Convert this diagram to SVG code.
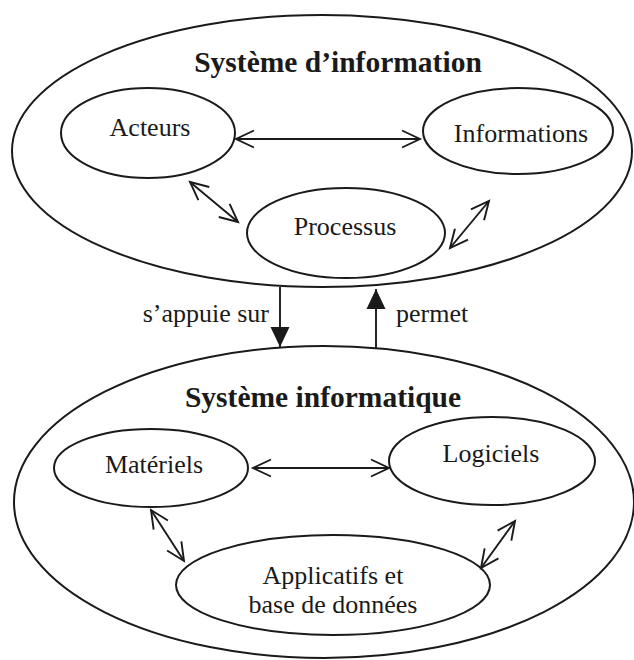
<svg xmlns="http://www.w3.org/2000/svg" width="634" height="660" viewBox="0 0 634 660">
<style>
.el{fill:none;stroke:#1a1a1a;stroke-width:2}
.ln{fill:none;stroke:#1a1a1a;stroke-width:1.9}
.t{font-family:"Liberation Serif","Times New Roman",serif;font-size:26px;fill:#1a1a1a;text-anchor:middle}
.h{font-family:"Liberation Serif","Times New Roman",serif;font-size:29.5px;font-weight:bold;fill:#1a1a1a;text-anchor:middle}
.lbl{font-family:"Liberation Serif","Times New Roman",serif;font-size:26px;fill:#1a1a1a}
</style>
<defs>
<marker id="open" markerUnits="userSpaceOnUse" markerWidth="24" markerHeight="24" viewBox="0 0 24 24" refX="21" refY="12" orient="auto-start-reverse">
<path d="M3,3.5 L21,12 L3,20.5" fill="none" stroke="#1a1a1a" stroke-width="1.9"/>
</marker>
<marker id="solid" markerUnits="userSpaceOnUse" markerWidth="22" markerHeight="22" viewBox="0 0 22 22" refX="20" refY="11" orient="auto">
<path d="M0,1.5 L20,11 L0,20.5 Z" fill="#1a1a1a"/>
</marker>
</defs>
<rect width="634" height="660" fill="#ffffff"/>
<g id="systeme-information">
<ellipse class="el" cx="322" cy="151" rx="310" ry="136"/>
<text class="h" x="338" y="72">Système d’information</text>
</g>
<g id="acteurs">
<ellipse class="el" cx="148" cy="133" rx="87" ry="45"/>
<text class="t" x="150" y="136">Acteurs</text>
</g>
<g id="informations">
<ellipse class="el" cx="518" cy="131" rx="95" ry="43"/>
<text class="t" x="521" y="142">Informations</text>
</g>
<g id="processus">
<ellipse class="el" cx="346" cy="233" rx="99" ry="45"/>
<text class="t" x="345" y="235">Processus</text>
</g>
<g id="systeme-informatique">
<ellipse class="el" cx="324" cy="502" rx="310" ry="156"/>
<text class="h" x="323" y="407">Système informatique</text>
</g>
<g id="materiels">
<ellipse class="el" cx="151" cy="468" rx="97" ry="39"/>
<text class="t" x="154" y="473">Matériels</text>
</g>
<g id="logiciels">
<ellipse class="el" cx="492" cy="461" rx="103" ry="44"/>
<text class="t" x="491" y="462">Logiciels</text>
</g>
<g id="applicatifs">
<ellipse class="el" cx="333" cy="585" rx="157" ry="50"/>
<text class="t" x="333" y="584">Applicatifs et</text>
<text class="t" x="333" y="613">base de données</text>
</g>
<g id="connectors">
<line class="ln" x1="236" y1="139" x2="420" y2="139" marker-start="url(#open)" marker-end="url(#open)"/>
<line class="ln" x1="190" y1="182" x2="238" y2="222" marker-start="url(#open)" marker-end="url(#open)"/>
<line class="ln" x1="450" y1="248" x2="489" y2="201" marker-start="url(#open)" marker-end="url(#open)"/>
<line class="ln" x1="253" y1="468" x2="389" y2="468" marker-start="url(#open)" marker-end="url(#open)"/>
<line class="ln" x1="151" y1="510" x2="184" y2="561" marker-start="url(#open)" marker-end="url(#open)"/>
<line class="ln" x1="481" y1="568" x2="515" y2="521" marker-start="url(#open)" marker-end="url(#open)"/>
<line class="ln" x1="280" y1="287" x2="280" y2="347" marker-end="url(#solid)"/>
<line class="ln" x1="376" y1="348" x2="376" y2="289" marker-end="url(#solid)"/>
<text class="lbl" x="269" y="322" text-anchor="end">s’appuie sur</text>
<text class="lbl" x="396" y="322">permet</text>
</g>
</svg>
